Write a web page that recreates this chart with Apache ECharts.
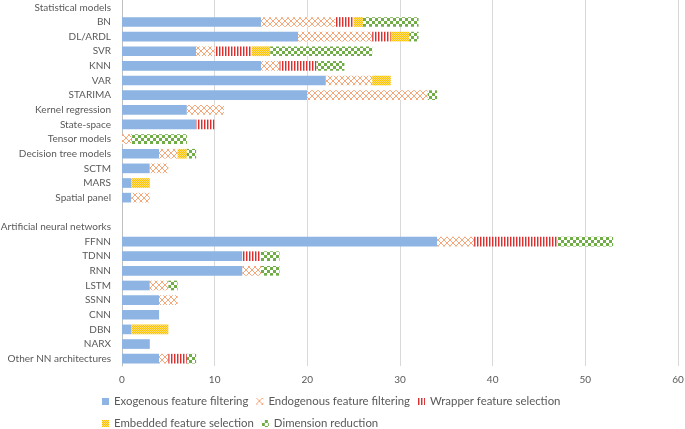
<!DOCTYPE html>
<html>
<head>
<meta charset="utf-8">
<script src="https://cdn.jsdelivr.net/npm/echarts@6/dist/echarts.min.js"></script>
<style>html,body{margin:0;padding:0;background:#fff}#c{width:685px;height:429px}</style>
</head>
<body>
<div id="c"></div>
<script>
var categories = ['Statistical models','BN','DL/ARDL','SVR','KNN','VAR','STARIMA','Kernel regression','State-space','Tensor models','Decision tree models','SCTM','MARS','Spatial panel','','Artificial neural networks','FFNN','TDNN','RNN','LSTM','SSNN','CNN','DBN','NARX','Other NN architectures'];
var seriesNames = ['Exogenous feature filtering','Endogenous feature filtering','Wrapper feature selection','Embedded feature selection','Dimension reduction'];
var exogenous = [0,15,19,8,15,22,20,7,8,0,4,3,1,1,0,0,34,13,13,3,4,4,1,3,4];
var endogenous = [0,8,8,2,2,5,13,4,0,1,2,2,0,2,0,0,4,0,2,2,2,0,0,0,1];
var wrapper = [0,2,2,4,4,0,0,0,2,0,0,0,0,0,0,0,9,2,0,0,0,0,0,0,2];
var embedded = [0,1,2,2,0,2,0,0,0,0,1,0,2,0,0,0,0,0,0,0,0,0,4,0,0];
var dimension = [0,6,1,11,3,0,1,0,0,6,1,0,0,0,0,0,6,2,2,1,0,0,0,0,1];
var xTicks = [0,10,20,30,40,50,60];

function pat(w,h,draw){var c=document.createElement('canvas');c.width=w;c.height=h;var g=c.getContext('2d');draw(g,w,h);return {image:c,repeat:'repeat'};}
var orangePat = pat(6,6,function(g,w,h){g.fillStyle='#fff';g.fillRect(0,0,w,h);g.strokeStyle='#F4A77A';g.lineWidth=1;g.beginPath();g.moveTo(0,0);g.lineTo(6,6);g.moveTo(6,0);g.lineTo(0,6);g.stroke();});
var redPat = pat(3,4,function(g,w,h){g.fillStyle='#fff';g.fillRect(0,0,w,h);g.fillStyle='#D93030';g.fillRect(0,0,1,h);g.fillStyle='#EFA0A0';g.fillRect(1,0,1,h);});
var yellowPat = pat(2,2,function(g,w,h){g.fillStyle='#FFE07A';g.fillRect(0,0,w,h);g.fillStyle='#FFC000';g.fillRect(0,0,1,1);g.fillRect(1,1,1,1);});
var greenPat = pat(6,6,function(g,w,h){g.fillStyle='#70AD47';g.fillRect(0,0,w,h);g.fillStyle='#fff';g.fillRect(0,0,3,3);g.fillRect(3,3,3,3);});

var colors = ['#8DB4E2', orangePat, redPat, yellowPat, greenPat];
var dataSets = [exogenous, endogenous, wrapper, embedded, dimension];

var series = seriesNames.map(function(n,i){
  return {name:n,type:'bar',stack:'s',data:dataSets[i],barWidth:'66%',itemStyle:{color:colors[i]},emphasis:{disabled:true}};
});

var chart = echarts.init(document.getElementById('c'));
var legendText = {color:'#595959',fontSize:11.4,fontFamily:'Lato'};
chart.setOption({
  animation:false,
  grid:{left:122,right:7,top:0,height:366,containLabel:false,outerBoundsMode:'none'},
  xAxis:{type:'value',min:0,max:60,interval:10,
    axisLine:{show:false},axisTick:{show:false},
    axisLabel:{color:'#595959',fontSize:10,fontFamily:'Lato',margin:9,formatter:function(v){return xTicks.indexOf(v)>=0?String(v):'';}},
    splitLine:{lineStyle:{color:'#D9D9D9'}}},
  yAxis:{type:'category',inverse:true,data:categories,
    axisLine:{lineStyle:{color:'#BFBFBF'}},axisTick:{show:false},
    axisLabel:{color:'#595959',fontSize:10,fontFamily:'Lato',margin:11,interval:0}},
  legend:[
    {data:seriesNames.slice(0,3),left:97,top:391,itemWidth:7,itemHeight:7,itemGap:8,textStyle:legendText,icon:'rect',selectedMode:false},
    {data:seriesNames.slice(3),left:97,top:413,itemWidth:7,itemHeight:7,itemGap:8,textStyle:legendText,icon:'rect',selectedMode:false}
  ],
  series:series
});
</script>
</body>
</html>
